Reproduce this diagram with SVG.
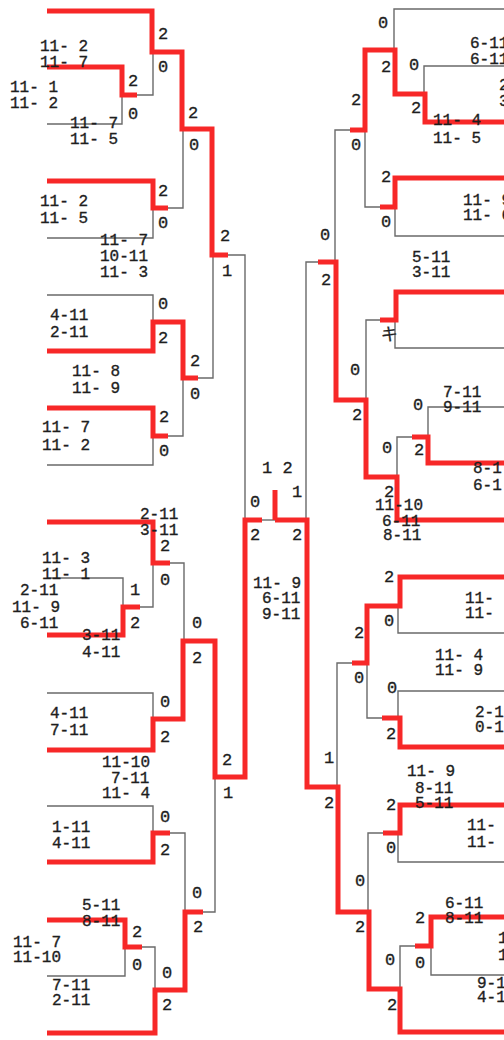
<svg xmlns="http://www.w3.org/2000/svg" width="504" height="1040" viewBox="0 0 504 1040" xml:space="preserve">
<style>
.r{fill:none;stroke:#f72828;stroke-width:5;stroke-linejoin:miter;stroke-linecap:butt}
.g{fill:none;stroke:#6a6a6a;stroke-width:1.4;stroke-linejoin:miter}
text{font-family:"Liberation Mono","DejaVu Sans Mono",monospace;font-size:16px;fill:#1e1e1e;stroke:#1e1e1e;stroke-width:0.35;white-space:pre}
.n{font-size:17px}
</style>
<rect width="504" height="1040" fill="#ffffff"/>
<g id="connectors">
<path class="g" d="M137,95 H153 V52"/>
<path class="g" d="M47,124 H122 V95"/>
<path class="g" d="M168,208 H183 V129"/>
<path class="g" d="M47,238 H153 V208"/>
<path class="g" d="M228,255 H245 V520"/>
<path class="g" d="M47,295 H153 V322"/>
<path class="g" d="M198,378 H213 V255"/>
<path class="g" d="M168,436 H183 V378"/>
<path class="g" d="M47,465 H153 V436"/>
<path class="r" d="M47,11 H152 V52 H182 V129 H212 V255 H228"/>
<path class="r" d="M47,67 H122 V95 H137"/>
<path class="r" d="M47,181 H153 V208 H168"/>
<path class="r" d="M47,351 H153 V322 H183 V378 H198"/>
<path class="r" d="M47,408 H153 V436 H168"/>
<path class="g" d="M170,563 H184 V641"/>
<path class="g" d="M47,578 H123 V607"/>
<path class="g" d="M140,607 H153 V563"/>
<path class="g" d="M47,693 H153 V719"/>
<path class="g" d="M47,806 H153 V833"/>
<path class="g" d="M170,833 H185 V912"/>
<path class="g" d="M142,947 H155 V990"/>
<path class="g" d="M47,976 H125 V947"/>
<path class="g" d="M203,912 H215 V777"/>
<path class="r" d="M47,522 H153 V563 H170"/>
<path class="r" d="M47,635 H123 V607 H140"/>
<path class="r" d="M47,750 H153 V719 H183 V641 H215 V777 H245 V520 H262"/>
<path class="r" d="M47,862 H153 V833 H170"/>
<path class="r" d="M47,920 H125 V947 H142"/>
<path class="r" d="M47,1033 H155 V990 H185 V912 H203"/>
<path class="g" d="M262,520 H275"/>
<path class="r" d="M275,520 V490"/>
<path class="g" d="M504,9 H394 V50"/>
<path class="g" d="M504,66 H424 V94"/>
<path class="g" d="M350,130 H335 V262"/>
<path class="g" d="M380,207 H365 V130"/>
<path class="g" d="M504,236 H395 V207"/>
<path class="g" d="M380,320 H366 V400"/>
<path class="g" d="M504,348 H395 V320"/>
<path class="g" d="M504,407 H428 V437"/>
<path class="g" d="M412,437 H397 V477"/>
<path class="g" d="M318,262 H306 V520"/>
<path class="r" d="M504,122 H425 V94 H395 V50 H365 V130 H350"/>
<path class="r" d="M504,178 H395 V207 H380"/>
<path class="r" d="M504,292 H396 V320 H380"/>
<path class="r" d="M504,463 H428 V437 H412"/>
<path class="r" d="M504,520 H397 V477 H366 V400 H336 V262 H318"/>
<path class="g" d="M352,663 H337 V787"/>
<path class="g" d="M504,633 H398 V606"/>
<path class="g" d="M504,691 H398 V718"/>
<path class="g" d="M382,718 H367 V663"/>
<path class="g" d="M383,833 H368 V912"/>
<path class="g" d="M504,862 H398 V833"/>
<path class="g" d="M415,946 H400 V989"/>
<path class="g" d="M504,975 H431 V946"/>
<path class="r" d="M504,577 H400 V606 H367 V663 H352"/>
<path class="r" d="M504,747 H400 V718 H382"/>
<path class="r" d="M504,805 H400 V833 H383"/>
<path class="r" d="M504,917 H431 V946 H415"/>
<path class="r" d="M504,1032 H400 V989 H369 V912 H338 V787 H307 V520 H275"/>
</g>
<g id="left-scores">
<g id="L1"><text x="40" y="51">11- 2</text><text x="40" y="67">11- 7</text></g>
<g id="L2"><text x="10" y="92">11- 1</text><text x="10" y="108">11- 2</text></g>
<g id="L3"><text x="70" y="128">11- 7</text><text x="70" y="144">11- 5</text></g>
<g id="L4"><text x="40" y="206">11- 2</text><text x="40" y="223">11- 5</text></g>
<g id="L5"><text x="100" y="245">11- 7</text><text x="100" y="261">10-11</text><text x="100" y="277">11- 3</text></g>
<g id="L6"><text x="50" y="320">4-11</text><text x="50" y="337">2-11</text></g>
<g id="L7"><text x="72" y="376">11- 8</text><text x="72" y="393">11- 9</text></g>
<g id="L8"><text x="42" y="432">11- 7</text><text x="42" y="450">11- 2</text></g>
<g id="L9"><text x="140" y="519">2-11</text><text x="140" y="535">3-11</text></g>
<g id="L10"><text x="42" y="563">11- 3</text><text x="42" y="579">11- 1</text></g>
<g id="L11"><text x="20" y="595">2-11</text><text x="12" y="612">11- 9</text><text x="20" y="628">6-11</text></g>
<g id="L12"><text x="82" y="640">3-11</text><text x="82" y="657">4-11</text></g>
<g id="L13"><text x="50" y="718">4-11</text><text x="50" y="735">7-11</text></g>
<g id="L14"><text x="102" y="767">11-10</text><text x="111" y="783">7-11</text><text x="102" y="798">11- 4</text></g>
<g id="L15"><text x="52" y="832">1-11</text><text x="52" y="848">4-11</text></g>
<g id="L16"><text x="82" y="910">5-11</text><text x="82" y="926">8-11</text></g>
<g id="L17"><text x="13" y="947">11- 7</text><text x="13" y="962">11-10</text></g>
<g id="L18"><text x="52" y="990">7-11</text><text x="52" y="1005">2-11</text></g>
</g>
<g id="left-games">
<text class="n" x="158" y="39">2</text><text class="n" x="158" y="72">0</text>
<text class="n" x="128" y="86">2</text><text class="n" x="128" y="119">0</text>
<text class="n" x="188" y="118">2</text><text class="n" x="189" y="150">0</text>
<text class="n" x="158" y="196">2</text><text class="n" x="158" y="228">0</text>
<text class="n" x="220" y="241">2</text><text class="n" x="222" y="276">1</text>
<text class="n" x="158" y="309">0</text><text class="n" x="158" y="343">2</text>
<text class="n" x="190" y="366">2</text><text class="n" x="190" y="399">0</text>
<text class="n" x="159" y="422">2</text><text class="n" x="159" y="456">0</text>
<text class="n" x="160" y="551">2</text><text class="n" x="160" y="585">0</text>
<text class="n" x="130" y="595">1</text><text class="n" x="130" y="628">2</text>
<text class="n" x="192" y="628">0</text><text class="n" x="192" y="663">2</text>
<text class="n" x="160" y="707">0</text><text class="n" x="160" y="742">2</text>
<text class="n" x="222" y="765">2</text><text class="n" x="223" y="798">1</text>
<text class="n" x="160" y="822">0</text><text class="n" x="160" y="855">2</text>
<text class="n" x="192" y="898">0</text><text class="n" x="193" y="932">2</text>
<text class="n" x="132" y="937">2</text><text class="n" x="132" y="970">0</text>
<text class="n" x="162" y="978">0</text><text class="n" x="162" y="1010">2</text>
</g>
<g id="final">
<text class="n" x="262" y="473">1 2</text>
<text class="n" x="292" y="497">1</text>
<text class="n" x="250" y="507">0</text>
<text class="n" x="250" y="540">2</text>
<text class="n" x="292" y="540">2</text>
<text x="253" y="588">11- 9</text><text x="262" y="603">6-11</text><text x="262" y="619">9-11</text>
</g>
<g id="right-scores">
<g id="R1"><text x="470" y="48">6-11</text><text x="470" y="64">6-11</text></g>
<g id="R2"><text x="499" y="90">2</text><text x="499" y="106">3</text></g>
<g id="R3"><text x="433" y="125">11- 4</text><text x="433" y="143">11- 5</text></g>
<g id="R4"><text x="463" y="205">11- 9</text><text x="463" y="220">11- 6</text></g>
<g id="R5"><text x="412" y="262">5-11</text><text x="412" y="277">3-11</text></g>
<g id="R6"><text x="443" y="397">7-11</text><text x="443" y="412">9-11</text></g>
<g id="R7"><text x="473" y="473">8-1</text><text x="473" y="490">6-1</text></g>
<g id="R8"><text x="375" y="510">11-10</text><text x="382" y="526">6-11</text><text x="383" y="540">8-11</text></g>
<g id="R9"><text x="465" y="603">11-</text><text x="465" y="618">11-</text></g>
<g id="R10"><text x="435" y="660">11- 4</text><text x="435" y="675">11- 9</text></g>
<g id="R11"><text x="475" y="717">2-1</text><text x="475" y="732">0-1</text></g>
<g id="R12"><text x="407" y="776">11- 9</text><text x="415" y="793">8-11</text><text x="415" y="808">5-11</text></g>
<g id="R13"><text x="467" y="830">11-</text><text x="467" y="847">11-</text></g>
<g id="R14"><text x="445" y="908">6-11</text><text x="445" y="923">8-11</text></g>
<g id="R15"><text x="498" y="943">1</text><text x="498" y="960">1</text></g>
<g id="R16"><text x="477" y="988">9-1</text><text x="477" y="1002">4-1</text></g>
</g>
<g id="right-games">
<text class="n" x="378" y="28">0</text><text class="n" x="381" y="72">2</text>
<text class="n" x="409" y="70">0</text><text class="n" x="411" y="113">2</text>
<text class="n" x="351" y="105">2</text><text class="n" x="351" y="150">0</text>
<text class="n" x="381" y="182">2</text><text class="n" x="381" y="227">0</text>
<text class="n" x="320" y="240">0</text><text class="n" x="321" y="285">2</text>
<text class="n" x="381" y="339" font-family="Noto Sans CJK JP, sans-serif" font-size="14">キ</text>
<text class="n" x="350" y="375">0</text><text class="n" x="352" y="420">2</text>
<text class="n" x="413" y="410">0</text><text class="n" x="414" y="455">2</text>
<text class="n" x="382" y="453">0</text><text class="n" x="384" y="497">2</text>
<text class="n" x="384" y="582">2</text><text class="n" x="384" y="626">0</text>
<text class="n" x="354" y="638">2</text><text class="n" x="354" y="683">0</text>
<text class="n" x="387" y="693">0</text><text class="n" x="386" y="739">2</text>
<text class="n" x="324" y="763">1</text><text class="n" x="324" y="808">2</text>
<text class="n" x="386" y="810">2</text><text class="n" x="386" y="853">0</text>
<text class="n" x="355" y="886">0</text><text class="n" x="355" y="932">2</text>
<text class="n" x="415" y="923">2</text><text class="n" x="415" y="968">0</text>
<text class="n" x="385" y="965">0</text><text class="n" x="387" y="1010">2</text>
</g>
</svg>
